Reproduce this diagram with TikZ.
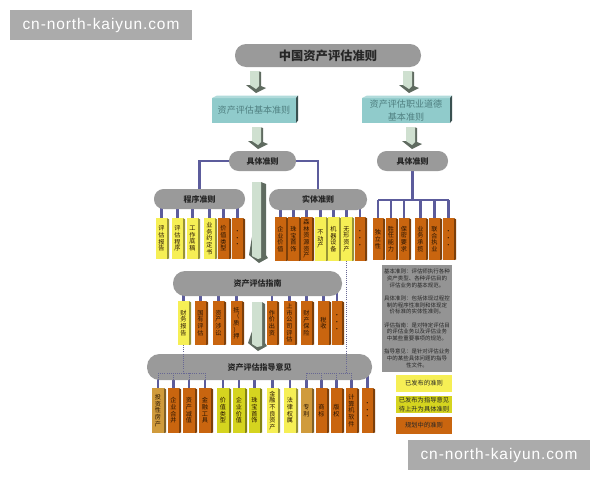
\documentclass[tikz,border=0pt]{standalone}
\usepackage{fontspec}
\setmainfont{Noto Sans CJK SC}
\newfontfamily\wmfont[LetterSpace=6]{Liberation Sans}
\usetikzlibrary{backgrounds,calc}
\definecolor{cy}{HTML}{F6EF55}
\definecolor{co}{HTML}{C9650F}
\definecolor{cg}{HTML}{D5D41F}
\definecolor{ct}{HTML}{D09B3C}
\definecolor{pillc}{HTML}{9A9A9A}
\definecolor{linec}{HTML}{5C5C9C}
\definecolor{tealc}{HTML}{90CBCB}
\definecolor{tealt}{HTML}{4F7F80}
\definecolor{arrl}{HTML}{CFE0D0}
\definecolor{arrd}{HTML}{5F6B60}
\definecolor{arrh}{HTML}{7C837C}
\tikzset{
  cardnode/.style={inner sep=0pt,outer sep=0pt,align=center,text=black!80!co,font=\fontsize{4.6}{5}\selectfont},
  pillnode/.style={inner sep=0pt,outer sep=0pt,fill=pillc,align=center,text=black!85},
  tealnode/.style={inner sep=0pt,outer sep=0pt,fill=tealc,align=center,text=tealt,font=\fontsize{6.8}{9.2}\selectfont},
  legendnode/.style={inner sep=0pt,outer sep=0pt,align=center,text=black!85,font=\fontsize{4.7}{6.2}\selectfont},
  dropline/.style={draw=linec,line width=1.7pt},
  dotline/.style={draw=linec!70!gray,line width=.6pt,densely dotted},
  wmnode/.style={fill=black!33,text=white,inner sep=0pt,font=\wmfont\fontsize{11.6}{14}\selectfont}
}
% name x1 x2 y1 y2 colour text
\newcommand{\cardbox}[7]{%
  \node[cardnode,fill=#6,minimum width={(#3-#2)*0.75pt},minimum height={(#5-#4)*0.75pt}] (#1) at ({(#2+#3)/2},{(#4+#5)/2}) {#7};
  \fill[#6!62!black] (#1.north east) -- ++(2.2,1.5) -- ($(#1.south east)+(2.2,-.5)$) -- (#1.south east) -- cycle;
}
% name x1 x2 y1 y2 font text
\newcommand{\pillbox}[7]{%
  \node[pillnode,rounded corners={(#5-#4)*0.36pt},minimum width={(#3-#2)*0.75pt},minimum height={(#5-#4)*0.75pt},font=\fontsize{#6}{#6}\selectfont\bfseries] (#1) at ({(#2+#3)/2},{(#4+#5)/2}) {#7};
}
% name x1 x2 y1 y2 text
\newcommand{\tealbox}[6]{%
  \node[tealnode,minimum width={(#3-#2)*0.75pt},minimum height={(#5-#4)*0.75pt}] (#1) at ({(#2+#3)/2},{(#4+#5)/2}) {#6};
  \fill[tealc!70!white] (#1.north west) -- ++(5,-2.5) -- ($(#1.north east)+(2,-2.5)$) -- (#1.north east) -- cycle;
  \fill[black!60!tealc] (#1.north east) -- ++(2,-2.5) -- ($(#1.south east)+(2,-2.5)$) -- (#1.south east) -- cycle;
}
% small block arrow: left, top
\newcommand{\smallarrow}[2]{%
  \fill[arrd] (#1+12,#2) -- (#1+15,#2+1) -- (#1+15,#2+15) -- (#1+20,#2+17) -- (#1+10,#2+22) -- (#1,#2+14) -- (#1+12,#2+14) -- cycle;
  \fill[arrl] (#1+4,#2) -- (#1+13,#2) -- (#1+13,#2+15) -- (#1+10,#2+18) -- (#1+4,#2+14) -- cycle;
}
% tall block arrow: shaft x1 x2 x3, top, neck, head left, tip x, head right, tip y, right y
\newcommand{\tallarrow}[9]{%
  \fill[arrd] (#2,#4) -- (#3,#4+2) -- (#3,#5) -- (#8,#9) -- (#7,#9+5) -- (#6,#5) -- cycle;
  \fill[arrl] (#1,#4) -- (#2,#4) -- (#2,#5+3) -- (#7-1,#9+1) -- (#1,#5+1) -- cycle;
}
\begin{document}
\begin{tikzpicture}[x=0.75pt,y=-0.75pt]
\useasboundingbox (0,0) rectangle (600,480);
\begin{scope}[on background layer]
  \fill[white] (0,0) rectangle (600,480);
\end{scope}

% watermarks
\node[wmnode,minimum width=136.5pt,minimum height=22.5pt] (wma) at (101,25) {cn-north-kaiyun.com};
\node[wmnode,minimum width=136.5pt,minimum height=22.5pt] (wmb) at (499,455) {cn-north-kaiyun.com};

% top levels
\pillbox{root}{235}{421}{44}{67}{9.2}{中国资产评估准则}
\tealbox{basic}{212}{296}{98}{123}{资产评估基本准则}
\tealbox{ethic}{362}{450}{98}{123}{资产评估职业道德\\基本准则}
\smallarrow{246}{71}
\smallarrow{399}{71}
\smallarrow{248}{127}
\smallarrow{402}{127}
\pillbox{specl}{229}{296}{151}{171}{6}{具体准则}
\pillbox{specr}{377}{448}{151}{171}{6}{具体准则}
\pillbox{proc}{154}{245}{189}{209}{6}{程序准则}
\pillbox{subst}{269}{367}{189}{210}{6}{实体准则}
\pillbox{guide}{173}{342}{271}{296}{6}{资产评估指南}
\pillbox{opin}{147}{372}{354}{380}{6}{资产评估指导意见}

\tallarrow{252}{261}{266}{182}{255}{249}{259}{268}{258}
\tallarrow{252}{262}{265}{302}{343}{248}{258}{267}{346}

% procedure cards
\cardbox{pa}{156}{167}{218}{259}{cy}{评\\估\\报\\告}
\cardbox{pb}{172}{183}{218}{259}{cy}{评\\估\\程\\序}
\cardbox{pc}{187}{198}{218}{259}{cy}{工\\作\\底\\稿}
\cardbox{pd}{204}{215}{218}{259}{cy}{业\\务\\约\\定\\书}
\cardbox{pe}{218}{229}{218}{259}{co}{价\\值\\类\\型}
\cardbox{pf}{232}{243}{218}{259}{co}{·\\·\\·}
% substantive cards
\cardbox{sa}{275}{286}{217}{261}{co}{企\\业\\价\\值}
\cardbox{sb}{288}{299}{217}{261}{co}{珠\\宝\\首\\饰}
\cardbox{sc}{301}{312}{217}{261}{co}{森\\林\\资\\源\\资\\产}
\cardbox{sd}{315}{326}{217}{261}{cy}{不\\动\\产}
\cardbox{se}{328}{339}{217}{261}{cy}{机\\器\\设\\备}
\cardbox{sf}{341}{352}{217}{261}{cy}{无\\形\\资\\产}
\cardbox{sg}{355}{365}{217}{261}{co}{·\\·\\·}
% ethics cards
\cardbox{ra}{373}{383}{218}{260}{co}{独\\立\\性}
\cardbox{rb}{386}{396}{218}{260}{co}{胜\\任\\能\\力}
\cardbox{rc}{399}{409}{218}{260}{co}{保\\密\\要\\求}
\cardbox{rd}{415}{426}{218}{260}{co}{业\\务\\承\\揽}
\cardbox{re}{429}{440}{218}{260}{co}{联\\合\\执\\业}
\cardbox{rf}{443}{454}{218}{260}{co}{·\\·\\·}
% guide cards
\cardbox{ga}{178}{189}{301}{345}{cy}{财\\务\\报\\告}
\cardbox{gb}{195}{206}{301}{345}{co}{国\\有\\评\\估}
\cardbox{gc}{213}{224}{301}{345}{co}{资\\产\\涉\\讼}
\cardbox{gd}{231}{242}{301}{345}{co}{抵\\（\\质\\）\\押}
\cardbox{ge}{267}{277}{301}{345}{co}{作\\价\\出\\资}
\cardbox{gf}{284}{295}{301}{345}{co}{上\\市\\公\\司\\评\\估}
\cardbox{gg}{301}{312}{301}{345}{co}{财\\产\\保\\险}
\cardbox{gh}{318}{329}{301}{345}{co}{税\\收}
\cardbox{gi}{332}{342}{301}{345}{co}{·\\·\\·}
% opinion cards
\cardbox{oa}{152}{164}{388}{433}{ct}{投\\资\\性\\房\\产}
\cardbox{ob}{168}{179}{388}{433}{co}{企\\业\\合\\并}
\cardbox{oc}{183}{195}{388}{433}{co}{资\\产\\减\\值}
\cardbox{od}{199}{211}{388}{433}{co}{金\\融\\工\\具}
\cardbox{oe}{217}{229}{388}{433}{cg}{价\\值\\类\\型}
\cardbox{of}{233}{245}{388}{433}{cg}{企\\业\\价\\值}
\cardbox{og}{249}{260}{388}{433}{cg}{珠\\宝\\首\\饰}
\cardbox{oh}{267}{278}{388}{433}{cy}{金\\融\\不\\良\\资\\产}
\cardbox{oi}{284}{296}{388}{433}{cy}{法\\律\\权\\属}
\cardbox{oj}{301}{312}{388}{433}{ct}{专\\利}
\cardbox{ok}{316}{327}{388}{433}{co}{商\\标}
\cardbox{ol}{331}{342}{388}{433}{co}{版\\权}
\cardbox{om}{346}{357}{388}{433}{co}{计\\算\\机\\软\\件}
\cardbox{on}{362}{373}{388}{433}{co}{·\\·\\·}

% legend
\node[legendnode,fill=black!42,minimum width=52.5pt,minimum height=80.25pt,font=\fontsize{4.1}{5}\selectfont] (note) at (417,318.5) {%
基本准则：评估师执行各种\\资产类型、各种评估目的\\评估业务的基本规范。\\[5pt]
具体准则：包括体现过程控\\制的程序性准则和体现定\\价标准的实体性准则。\\[5pt]
评估指南：是对特定评估目\\的评估业务以及评估业务\\中某些重要事项的规范。\\[5pt]
指导意见：是针对评估业务\\中的某些具体问题的指导\\性文件。};
\node[legendnode,fill=cy,minimum width=42pt,minimum height=12.75pt] (lega) at (424,383.5) {已发布的准则};
\node[legendnode,fill=cg,minimum width=42pt,minimum height=12.75pt] (legb) at (424,404.5) {已发布为指导意见\\待上升为具体准则};
\node[legendnode,fill=co,minimum width=42pt,minimum height=12.75pt] (legc) at (424,425.5) {规划中的准则};

\coordinate (rbus) at (412,200);
\coordinate (obus) at (0,373);

\begin{scope}[on background layer]
  \draw[dropline] (specl.west) -| (proc.north);
  \draw[dropline] (specl.east) -| (subst.north);
  \foreach \c in {pa,pb,pc,pd,pe,pf} \draw[dropline] (\c.north) -- (\c.north |- proc.center);
  \foreach \c in {sa,sb,sc,sd,se,sf,sg} \draw[dropline] (\c.north) -- (\c.north |- subst.center);
  \draw[dropline] (specr.center) -- (specr.center |- rbus);
  \draw[dropline] (ra.north |- rbus) -- (rf.north |- rbus);
  \foreach \c in {ra,rb,rc,rd,re,rf} \draw[dropline] (\c.north) -- (\c.north |- rbus);
  \foreach \c in {ga,gb,gc,gd,ge,gf,gg,gh,gi} \draw[dropline] (\c.north) -- (\c.north |- guide.center);
  \foreach \c in {oa,ob,oc,od,oe,of,og,oh,oi,oj,ok,ol,om,on} \draw[dropline] (\c.north) -- (\c.north |- opin.center);
\end{scope}

% dotted links
\draw[dotline] (ga.south) -- (ga.south |- obus);
\draw[dotline] (sf.south) -- (sf.south |- obus);
\draw[dotline] (oa.north |- obus) -- (od.north |- obus);
\draw[dotline] (oj.north |- obus) -- (om.north |- obus);
\foreach \c in {oa,ob,oc,od,oj,ok,ol,om} \draw[dotline] (\c.north |- obus) -- (\c.north |- opin.south);
\end{tikzpicture}
\end{document}
